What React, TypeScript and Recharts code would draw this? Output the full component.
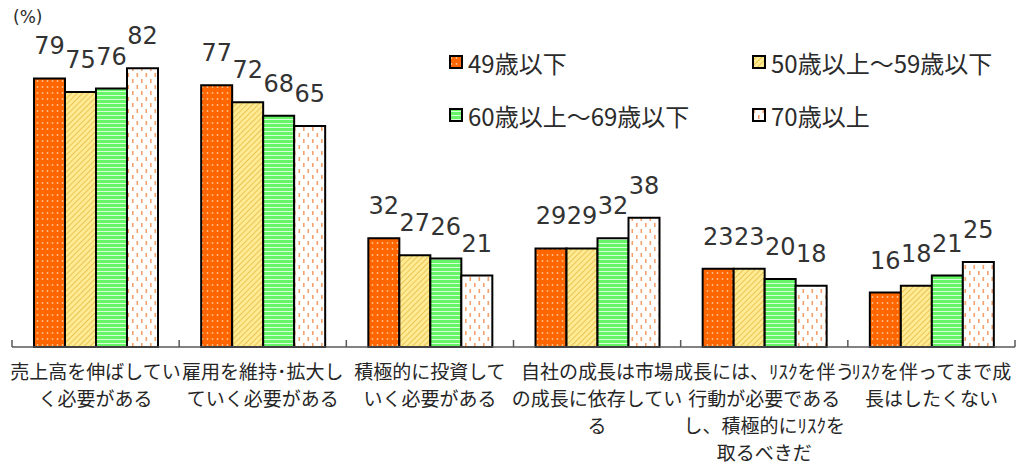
import { Bar, BarChart, LabelList, XAxis, YAxis } from "recharts";

const categories = [
  "売上高を伸ばしていく必要がある",
  "雇用を維持・拡大していく必要がある",
  "積極的に投資していく必要がある",
  "自社の成長は市場の成長に依存している",
  "成長には、ﾘｽｸを伴う行動が必要であるし、積極的にﾘｽｸを取るべきだ",
  "ﾘｽｸを伴ってまで成長はしたくない",
];

// how each category label wraps under the axis
const categoryLines = [
  ["売上高を伸ばしてい", "く必要がある"],
  ["雇用を維持･拡大し", "ていく必要がある"],
  ["積極的に投資して", "いく必要がある"],
  ["自社の成長は市場", "の成長に依存してい", "る"],
  ["成長には、ﾘｽｸを伴う", "行動が必要である", "し、積極的にﾘｽｸを", "取るべきだ"],
  ["ﾘｽｸを伴ってまで成", "長はしたくない"],
];

const seriesNames = ["49歳以下", "50歳以上～59歳以下", "60歳以上～69歳以下", "70歳以上"];
const under49 = [79, 77, 32, 29, 23, 16];
const age50s = [75, 72, 27, 29, 23, 18];
const age60s = [76, 68, 26, 32, 20, 21];
const over70 = [82, 65, 21, 38, 18, 25];

const data = categories.map((name, i) => ({
  name,
  s0: under49[i],
  s1: age50s[i],
  s2: age60s[i],
  s3: over70[i],
}));

const fills = ["url(#pDots)", "url(#pDiag)", "url(#pLines)", "url(#pDash)"];
const keys = ["s0", "s1", "s2", "s3"];

const PLOT_LEFT = 12;
const PLOT_RIGHT = 1015;
const STEP = (PLOT_RIGHT - PLOT_LEFT) / categories.length;
const JP = "'Noto Sans CJK JP', 'Noto Sans', sans-serif";

function Patterns() {
  return (
    <svg width={0} height={0} style={{ position: "absolute" }}>
      <defs>
        <pattern id="pDots" width={5} height={6} patternUnits="userSpaceOnUse">
          <rect width={5} height={6} fill="#ff6600" />
          <circle cx={2.5} cy={3} r={0.9} fill="#ffc08a" />
        </pattern>
        <pattern id="pDiag" width={4} height={4} patternUnits="userSpaceOnUse" patternTransform="rotate(45)">
          <rect width={4} height={4} fill="#ffeb94" />
          <line x1={0} y1={0} x2={0} y2={4} stroke="#e2b43a" strokeWidth={1.4} />
        </pattern>
        <pattern id="pLines" width={4} height={4} patternUnits="userSpaceOnUse">
          <rect width={4} height={4} fill="#66f566" />
          <line x1={0} y1={3.5} x2={4} y2={3.5} stroke="#d8ffd8" strokeWidth={1} />
        </pattern>
        <pattern id="pDash" width={9} height={12} patternUnits="userSpaceOnUse">
          <rect width={9} height={12} fill="#ffffff" />
          <rect x={1.5} y={1} width={1.6} height={4} fill="#f4a06a" />
          <rect x={6} y={7} width={1.6} height={4} fill="#f4a06a" />
        </pattern>
      </defs>
    </svg>
  );
}

function CategoryTick(props: any) {
  const { x, y, payload } = props;
  const idx = categories.indexOf(payload.value);
  const lines = categoryLines[idx] || [];
  const left = x - STEP / 2;
  const right = x + STEP / 2;
  return (
    <g>
      <line x1={left} y1={y} x2={left} y2={y - 7} stroke="#595959" strokeWidth={1.5} />
      {idx === categories.length - 1 && (
        <line x1={right} y1={y} x2={right} y2={y - 7} stroke="#595959" strokeWidth={1.5} />
      )}
      {lines.map((t, i) => (
        <text key={i} x={x} y={y + 32 + i * 27} textAnchor="middle" fontSize={19} fontFamily={JP} fill="#262626">
          {t}
        </text>
      ))}
    </g>
  );
}

function LegendBox() {
  const cols = [449, 752];
  const rows = [62, 115];
  return (
    <>
      {seriesNames.map((n, i) => (
        <div
          key={n}
          style={{
            position: "absolute",
            left: cols[i % 2],
            top: rows[Math.floor(i / 2)] - 16,
            height: 32,
            display: "flex",
            alignItems: "center",
            fontFamily: JP,
            fontSize: 24,
            color: "#2b2b2b",
            whiteSpace: "nowrap",
          }}
        >
          <svg width={14} height={14} style={{ marginRight: 5 }}>
            <rect x={1} y={1} width={12} height={12} fill={fills[i]} stroke="#000" strokeWidth={2} />
          </svg>
          {n}
        </div>
      ))}
    </>
  );
}

export default function App() {
  return (
    <div style={{ position: "absolute", left: 0, top: 0, width: 1019, height: 467, background: "#fff" }}>
      <Patterns />
      <BarChart
        width={1019}
        height={467}
        data={data}
        margin={{ top: 7, right: 1019 - PLOT_RIGHT, left: PLOT_LEFT, bottom: 0 }}
        barCategoryGap={22}
        barGap={0}
      >
        <XAxis
          dataKey="name"
          height={120}
          interval={0}
          tickLine={false}
          tickSize={0}
          tickMargin={0}
          axisLine={{ stroke: "#595959", strokeWidth: 1.5 }}
          tick={<CategoryTick />}
        />
        <YAxis hide domain={[0, 100]} />
        {keys.map((k, i) => (
          <Bar key={k} dataKey={k} name={seriesNames[i]} fill={fills[i]} stroke="#000" strokeWidth={2} isAnimationActive={false}>
            <LabelList dataKey={k} position="top" offset={24} fontSize={24} fontFamily="'DejaVu Sans', sans-serif" fill="#333" />
          </Bar>
        ))}
      </BarChart>
      <div style={{ position: "absolute", left: 13, top: 6, fontFamily: "'DejaVu Sans', sans-serif", fontSize: 17, lineHeight: "22px", color: "#2b2b2b" }}>(%)</div>
      <LegendBox />
    </div>
  );
}
